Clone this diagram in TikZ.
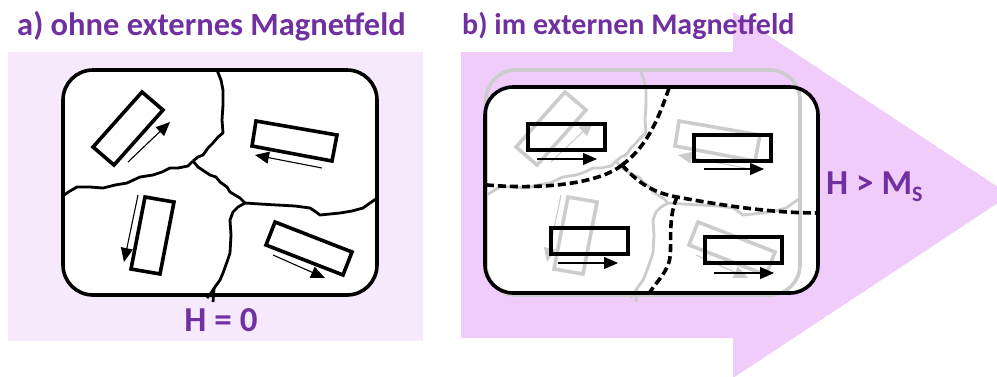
\documentclass[tikz,border=0pt]{standalone}
\usepackage{fontspec}
\setmainfont{Carlito}
\usetikzlibrary{arrows.meta}
\definecolor{lila}{HTML}{7030A0}
\definecolor{hintergrund}{HTML}{F6E9FC}
\definecolor{pfeil}{HTML}{F0CCFB}
\tikzset{
  probe/.style={line width=3.6pt, rounded corners=30pt},
  korngrenze/.style={line width=2.8pt, line join=round},
  domaene/.style={line width=3.6pt, line join=miter},
  moment/.style={line width=1.1pt, -{Triangle[length=14pt,width=12pt]}},
  wand/.style={line width=3.6pt, dash pattern=on 8pt off 4pt},
  titel/.style={font=\bfseries\fontsize{30}{31}\selectfont, text=lila, anchor=base west, inner sep=0pt},
  feld/.style={font=\bfseries\fontsize{35}{36}\selectfont, text=lila, inner sep=0pt}
}
\newcommand{\kornprobe}[1]{%
\begin{scope}[draw=#1]
\draw[probe] (63,70) rectangle (377,295);
\draw[korngrenze] (217,70) -- (221,80) -- (223,90) -- (223,105) -- (222,120) -- (223,133)
 -- (218,137) -- (213,143) -- (208,148) -- (203,155) -- (198,157) -- (193,161);
\draw[korngrenze] (193,161) -- (188,166) -- (178,168) -- (170,168) -- (162,172) -- (153,175)
 -- (140,177) -- (127,183) -- (115,185) -- (103,188) -- (90,187) -- (77,187) -- (70,191) -- (64,195);
\draw[korngrenze] (193,161) -- (198,167) -- (204,171) -- (210,175) -- (216,177) -- (220,182)
 -- (227,187) -- (230,192) -- (235,195) -- (240,198) -- (245,203);
\draw[korngrenze] (245,203) -- (260,204) -- (277,205) -- (295,206) -- (310,208) -- (316,212)
 -- (320,215) -- (330,214) -- (340,213) -- (352,211) -- (363,208) -- (370,203) -- (376,199);
\draw[korngrenze] (245,203) -- (238,207) -- (233,212) -- (230,220) -- (231,235) -- (230,253)
 -- (227,262) -- (223,273) -- (220,280) -- (215,287) -- (211,293) -- (207,298);
\draw[korngrenze] (214,289) -- (213,302);
\draw[domaene] (93,147) -- (142,92) -- (163,110) -- (114,165) -- cycle;
\draw[domaene] (256,121) -- (337,135) -- (332,161) -- (252,146) -- cycle;
\draw[domaene] (145,197) -- (174,202) -- (160,274) -- (131,269) -- cycle;
\draw[domaene] (275,222) -- (352,252) -- (343,275) -- (266,245) -- cycle;
\draw[moment] (128,162) -- (170,122);
\draw[moment] (322,168) -- (255,155);
\draw[moment] (138,195) -- (124,262);
\draw[moment] (273,255) -- (325,278);
\end{scope}}

\begin{document}
\begin{tikzpicture}[x=1pt,y=-1pt]
\useasboundingbox (0,0) rectangle (997,376);
\clip (0,0) rectangle (997,376);
% a) ohne Feld
\fill[hintergrund] (8,52) rectangle (423,341);
\fill[white, rounded corners=30pt] (63,70) rectangle (377,295);
\kornprobe{black}
% b) im Feld
\fill[pfeil] (461,52) -- (733,52) -- (733,12) -- (1010,195) -- (733,378) -- (733,338)
 -- (461,338) -- cycle;
\fill[white, rounded corners=28pt] (485,87) rectangle (818,293);
\begin{scope}[shift={(423,0)}]
\kornprobe{black!20}
\end{scope}
\draw[probe, rounded corners=28pt] (485,87) rectangle (818,293);
\draw[wand] (669,88) .. controls (655,130) and (642,150) .. (622,165);
\draw[wand] (622,165) .. controls (600,183) and (545,190) .. (487,185);
\draw[wand] (622,165) .. controls (640,185) and (655,193) .. (677,197)
 .. controls (720,205) and (770,213) .. (818,213);
\draw[wand] (677,197) .. controls (666,222) and (674,252) .. (668,265)
 .. controls (664,275) and (656,283) .. (650,292);
\foreach \a/\b in {528/124, 694/135, 551/228, 705/237}
  \draw[domaene] (\a,\b) rectangle ++(77,26);
\foreach \a/\b in {537/159, 704/169, 558/263, 714/273}
  \draw[moment] (\a,\b) -- ++(60,0);
% Beschriftung
\node[titel, font=\bfseries\fontsize{32.5}{33}\selectfont] (titelA) at (17,35)
 {a) ohne externes Magnetfeld};
\node[titel] (titelB) at (462,34) {b) im externen Magnetfeld};
\node[feld, anchor=base] (feldA) at (221,331) {H = 0};
\node[feld, anchor=base west] (feldB) at (826,194)
 {H > M\raisebox{-0.22em}{\fontsize{22}{22}\selectfont S}};
\end{tikzpicture}
\end{document}
